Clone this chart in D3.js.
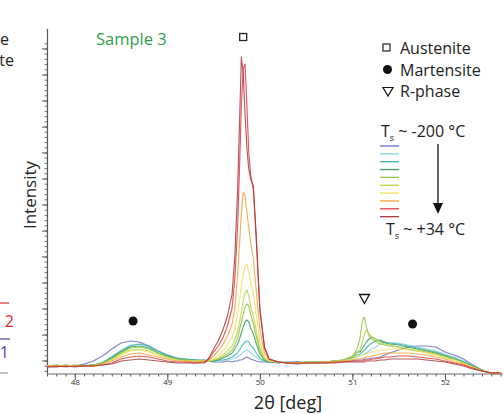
<!DOCTYPE html>
<html><head><meta charset="utf-8">
<script src="https://cdn.jsdelivr.net/npm/d3@7"></script>
<style>body{margin:0;background:#fff}svg{display:block}text{font-family:"Open Sans",sans-serif}</style>
</head><body><svg id="c" width="503" height="414"></svg>
<script>
// 2-theta grid (deg)
const twoTheta = [47.70,47.80,47.90,48.00,48.10,48.20,48.30,48.40,48.50,48.60,48.70,48.80,48.90,49.00,49.10,49.20,49.30,49.40,
49.45,49.50,49.55,49.60,49.65,49.70,49.73,49.76,49.78,49.80,49.82,49.84,49.86,49.88,49.90,49.93,49.96,50.00,50.05,50.10,50.20,
50.30,50.40,50.50,50.60,50.70,50.80,50.90,51.00,51.05,
51.08,51.11,51.13,51.15,51.18,51.21,51.25,51.30,51.35,51.40,
51.50,51.60,51.70,51.80,51.90,52.00,52.10,52.20,52.30,52.40,52.45,52.50,52.60];

// intensity (a.u.) per scan temperature, coldest (Ts ~ -200 °C) to warmest (Ts ~ +34 °C)
const scan1 = [8,8,9,8,10,13,18,25,31,33,32,28,23,19,16,14,14,13,
 13,12,12,12,13,12,13,13,14,14,15,16,17,16,15,14,13,12,12,12,11,
 12,12,11,12,12,12,13,13,14,
 14,14,15,15,15,16,16,17,19,21,
 24,27,28,28,27,22,19,15,9,4,2,1,1];
const scan2 = [8,8,8,9,8,9,12,17,24,29,30,27,22,19,16,15,14,14,
 13,13,13,14,14,15,16,17,19,20,22,23,24,23,21,19,17,14,13,12,12,
 12,11,12,12,12,13,13,15,17,
 18,19,20,21,23,25,27,30,32,31,
 31,29,27,25,23,20,17,13,8,4,2,1,1];
const scan3 = [8,9,8,8,9,9,11,17,23,28,30,28,23,19,16,15,14,14,
 13,13,14,14,15,17,19,21,24,27,30,32,33,32,29,26,21,16,13,12,12,
 11,12,12,12,12,13,14,16,19,
 20,22,24,26,29,31,33,34,32,31,
 30,28,26,24,22,19,16,12,8,4,2,1,1];
const scan4 = [8,8,8,8,8,9,11,16,22,27,28,26,21,18,15,14,14,13,
 13,13,14,16,18,21,25,30,35,41,47,52,54,52,46,40,31,20,14,12,12,
 11,12,11,12,12,13,14,17,22,
 22,26,29,32,35,37,35,33,31,30,
 29,27,25,23,21,18,15,12,8,4,2,1,1];
const scan5 = [8,8,8,9,8,9,11,15,21,26,27,25,21,17,15,14,13,14,
 13,14,15,17,20,24,29,36,44,52,60,67,70,68,60,50,38,23,15,13,12,
 11,11,12,12,12,13,14,18,25,
 35,54,57,47,38,35,33,30,29,28,
 27,25,23,22,20,17,15,11,7,4,2,1,1];
const scan6 = [8,8,8,8,8,9,10,14,20,24,25,23,19,16,14,13,13,13,
 13,14,16,19,23,28,34,43,52,62,73,81,84,78,68,58,44,26,16,13,12,
 11,11,12,11,12,13,14,17,22,
 24,33,40,44,40,37,35,32,30,29,
 27,25,24,22,20,17,14,11,7,3,2,1,1];
const scan7 = [8,8,9,8,8,8,10,14,19,23,24,22,19,16,14,13,13,13,
 13,15,18,23,29,37,46,60,74,88,100,108,110,102,92,80,60,32,17,13,12,
 11,11,11,12,12,12,13,15,18,
 18,19,20,20,21,22,23,24,24,25,
 25,24,23,21,19,16,14,11,7,3,2,1,1];
const scan8 = [8,8,8,8,8,8,10,13,17,20,21,19,17,15,13,13,12,13,
 14,18,23,29,38,50,66,98,130,160,182,178,162,146,132,115,84,44,21,14,12,
 11,11,11,11,12,12,13,14,15,
 15,16,16,17,17,18,19,20,21,21,
 21,21,20,19,17,15,12,10,6,3,2,1,1];
const scan9 = [7,8,7,8,8,8,9,11,15,17,18,17,15,13,12,12,11,12,
 15,22,28,36,48,66,96,148,205,268,305,310,268,222,200,184,140,66,27,15,12,
 11,11,11,11,11,12,12,13,13,
 13,13,14,14,14,15,15,16,17,17,
 18,18,17,16,15,13,11,9,6,3,2,1,1];
const scan10 = [7,7,8,7,8,8,9,10,13,14,15,14,13,12,11,11,11,11,
 16,25,33,44,58,80,118,185,250,317,300,260,226,205,195,188,136,64,26,15,12,
 11,10,11,11,11,11,12,12,12,
 12,12,12,13,13,13,13,14,14,15,
 15,15,15,14,13,12,10,8,5,3,2,1,1];
const scans = [scan1,scan2,scan3,scan4,scan5,scan6,scan7,scan8,scan9,scan10];
const scanColors = ["#6b6fc2","#86d3e6","#3cb5a8","#3f9a5e","#8fc640","#bdd446","#f1e25c","#f3a23a","#e5393c","#a43c3e"];

// tick labels
const xTickLabels = [48,49,50,51,52];

// phase markers [2theta, intensity]
const austeniteMarks = [[49.82,337]];
const martensiteMarks = [[48.63,53],[51.65,50]];
const rphaseMarks = [[51.13,75]];

const svg = d3.select("#c");
const x = d3.scaleLinear().domain([47.7,52.6]).range([47,500.5]);
const y = d3.scaleLinear().domain([0,345]).range([374,29]);

// y axis
const yMajor = d3.range(0,13).map(k=>13.5+26*k);
const yMinor = d3.range(0,67).map(k=>13.5-26+5.2*k).filter(v=>v>=0&&v<=345);
svg.append("g").attr("transform","translate(47,0)")
  .call(d3.axisLeft(y).tickValues(yMinor).tickSize(2.5).tickFormat(""))
  .call(g=>{g.select(".domain").remove();g.selectAll("line").attr("stroke","#777");});
svg.append("g").attr("transform","translate(47,0)")
  .call(d3.axisLeft(y).tickValues(yMajor).tickSize(5).tickFormat(""))
  .call(g=>{g.select(".domain").remove();g.selectAll("line").attr("stroke","#555");});
svg.append("line").attr("x1",47.5).attr("x2",47.5).attr("y1",y(345)).attr("y2",y(0)).attr("stroke","#555").attr("stroke-width",1.2);

// x axis
const xMinor = d3.range(477,527).map(v=>v/10);
svg.append("g").attr("transform","translate(0,374)")
  .call(d3.axisBottom(x).tickValues(xMinor).tickSize(2.5).tickFormat(""))
  .call(g=>{g.select(".domain").remove();g.selectAll("line").attr("stroke","#555");});
svg.append("g").attr("transform","translate(0,374)")
  .call(d3.axisBottom(x).tickValues(xTickLabels).tickSize(6).tickPadding(0).tickFormat(d3.format("d")))
  .call(g=>{g.select(".domain").remove();g.selectAll("line").attr("stroke","#555");
    g.selectAll("text").attr("font-size",8).attr("fill","#333").attr("dy","0.6em").attr("font-family","Open Sans, sans-serif");});
svg.append("line").attr("x1",47).attr("x2",503).attr("y1",374).attr("y2",374).attr("stroke","#666").attr("stroke-width",1);

// data lines
const line = d3.line().x((d,i)=>x(twoTheta[i])).y(d=>y(d));
svg.append("g").selectAll("path").data(scans).join("path")
  .attr("d",line).attr("fill","none").attr("stroke",(d,i)=>scanColors[i])
  .attr("stroke-width",1.15).attr("stroke-opacity",0.85).attr("stroke-linejoin","round");

// markers
svg.selectAll(".sq").data(austeniteMarks).join("rect").attr("class","sq")
  .attr("x",d=>x(d[0])-3.5).attr("y",d=>y(d[1])-3.5).attr("width",7).attr("height",7)
  .attr("fill","#fff").attr("stroke","#222").attr("stroke-width",1.3);
svg.selectAll(".ci").data(martensiteMarks).join("circle").attr("class","ci")
  .attr("cx",d=>x(d[0])).attr("cy",d=>y(d[1])).attr("r",4.5).attr("fill","#111");
svg.selectAll(".tr").data(rphaseMarks).join("path").attr("class","tr")
  .attr("d",d=>{const cx=x(d[0]),cy=y(d[1]);return `M${cx-5},${cy-4.5}L${cx+5},${cy-4.5}L${cx},${cy+4.5}Z`;})
  .attr("fill","#fff").attr("stroke","#111").attr("stroke-width",1.3);

// titles
svg.append("text").attr("x",288).attr("y",409).attr("text-anchor","middle").attr("font-size",18).attr("fill","#222").text("2θ [deg]");
svg.append("text").attr("transform","translate(36,195) rotate(-90)").attr("text-anchor","middle").attr("font-size",17).attr("fill","#222").text("Intensity");
svg.append("text").attr("x",96).attr("y",45).attr("font-size",16.5).attr("fill","#2f9e4c").text("Sample 3");

// legend
const lg = svg.append("g");
lg.append("rect").attr("x",383).attr("y",44).attr("width",7).attr("height",7).attr("fill","#fff").attr("stroke","#222").attr("stroke-width",1.2);
lg.append("circle").attr("cx",387.5).attr("cy",69.5).attr("r",4.5).attr("fill","#111");
lg.append("path").attr("d","M383,87.5L393,87.5L388,96Z").attr("fill","#fff").attr("stroke","#111").attr("stroke-width",1.2);
[["Austenite",53.5],["Martensite",75.5],["R-phase",97]].forEach(([t,yy])=>
  lg.append("text").attr("x",400).attr("y",yy).attr("font-size",16).attr("fill","#222").text(t));
const t1 = lg.append("text").attr("x",381).attr("y",137).attr("font-size",16).attr("fill","#222");
t1.append("tspan").text("T");
t1.append("tspan").attr("font-size",9).attr("dy",4).text("s");
t1.append("tspan").attr("dy",-4).text(" ~ -200 °C");
lg.selectAll(".ll").data(scanColors).join("line").attr("class","ll")
  .attr("x1",380).attr("x2",399).attr("y1",(d,i)=>146+7.85*i).attr("y2",(d,i)=>146+7.85*i)
  .attr("stroke",d=>d).attr("stroke-width",1.3);
lg.append("line").attr("x1",438).attr("x2",438).attr("y1",144).attr("y2",205).attr("stroke","#111").attr("stroke-width",1.3);
lg.append("path").attr("d","M433,203L443,203L438,214Z").attr("fill","#111");
const t2 = lg.append("text").attr("x",386).attr("y",235).attr("font-size",16).attr("fill","#222");
t2.append("tspan").text("T");
t2.append("tspan").attr("font-size",9).attr("dy",4).text("s");
t2.append("tspan").attr("dy",-4).text(" ~ +34 °C");

// cropped neighbour-panel fragments at left edge
svg.append("text").attr("x",0).attr("y",45).attr("font-size",16).attr("fill","#222").text("e");
svg.append("text").attr("x",14).attr("y",66).attr("text-anchor","end").attr("font-size",16).attr("fill","#222").text("te");
svg.append("line").attr("x1",0).attr("x2",9).attr("y1",303).attr("y2",303).attr("stroke","#e5393c").attr("stroke-width",1.3);
svg.append("text").attr("x",14).attr("y",327).attr("text-anchor","end").attr("font-size",16).attr("fill","#e5262b").text("2");
svg.append("line").attr("x1",0).attr("x2",10).attr("y1",339).attr("y2",339).attr("stroke","#4a55b0").attr("stroke-width",1.3);
svg.append("text").attr("x",9).attr("y",358).attr("text-anchor","end").attr("font-size",16).attr("fill","#3a48b0").text("1");
svg.append("line").attr("x1",0).attr("x2",8).attr("y1",373).attr("y2",373).attr("stroke","#888").attr("stroke-width",1);
</script></body></html>
